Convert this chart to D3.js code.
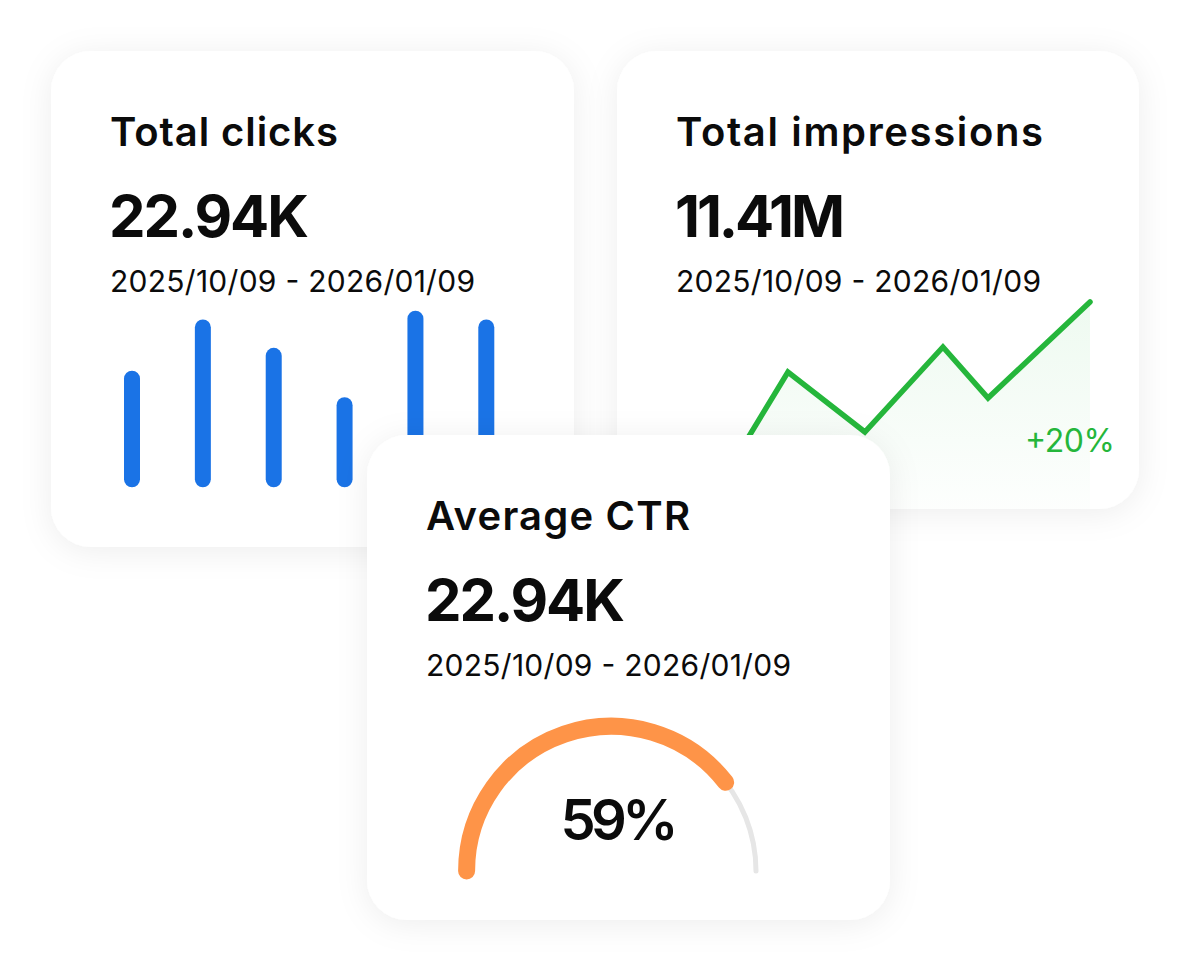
<!DOCTYPE html>
<html>
<head>
<meta charset="utf-8">
<script src="https://cdn.jsdelivr.net/npm/d3@7"></script>
<style>
html,body{margin:0;padding:0;background:#ffffff;}
svg{display:block;}
text{font-family:Inter,"Open Sans","Noto Sans",sans-serif;fill:#0b0b0b;}
</style>
</head>
<body>
<svg id="chart" width="1191" height="972"></svg>
<script>
// ---------- data ----------
const cardTitles = ["Total clicks", "Total impressions", "Average CTR"];
const cardValues = ["22.94K", "11.41M", "22.94K"];
const cardDates  = ["2025/10/09 - 2026/01/09", "2025/10/09 - 2026/01/09", "2025/10/09 - 2026/01/09"];

const barCategories = ["b1", "b2", "b3", "b4", "b5", "b6"];
const barValues     = [66, 95, 79, 51, 100, 95];

const linePositions = [0, 20.3, 40.6, 61.2, 73.1, 100];
const lineValues    = [0.5, 64, 34, 76.5, 51, 99];
const changeLabel   = "+20%";

const gaugeValue = 79;      // arc sweep as drawn
const gaugeLabel = "59%";

// ---------- layout ----------
const svg = d3.select("#chart");
const cards = [
  {x: 51,  y: 51,  w: 523, h: 496},
  {x: 617, y: 51,  w: 522, h: 458},
  {x: 367, y: 435, w: 523, h: 485}
];
const R = 40;

const defs = svg.append("defs");
const f = defs.append("filter").attr("id", "shadow")
  .attr("x", "-20%").attr("y", "-20%").attr("width", "140%").attr("height", "140%");
f.append("feDropShadow").attr("dx", 0).attr("dy", 4).attr("stdDeviation", 16)
  .attr("flood-color", "#000").attr("flood-opacity", 0.07);

const grad = defs.append("linearGradient").attr("id", "areaGrad")
  .attr("x1", 0).attr("y1", 0).attr("x2", 0).attr("y2", 1);
grad.append("stop").attr("offset", "0%").attr("stop-color", "#2cbf48").attr("stop-opacity", 0.08);
grad.append("stop").attr("offset", "100%").attr("stop-color", "#2cbf48").attr("stop-opacity", 0.01);

defs.append("clipPath").attr("id", "clip2").append("rect")
  .attr("x", cards[1].x).attr("y", cards[1].y).attr("width", cards[1].w).attr("height", cards[1].h)
  .attr("rx", R);

const titleW = [228, 367, 264];
const valueW = [200, 170, 200];
const dateW  = 365;

function fit(sel, target) {
  const n = sel.node();
  const len = n.getComputedTextLength();
  if (Math.abs(len - target) > 1) {
    sel.attr("textLength", target).attr("lengthAdjust", "spacing");
  }
}

function drawCard(i) {
  const c = cards[i];
  const g = svg.append("g");
  g.append("rect").attr("x", c.x).attr("y", c.y).attr("width", c.w).attr("height", c.h)
    .attr("rx", R).attr("fill", "#ffffff").attr("filter", "url(#shadow)");
  const t = g.append("text").attr("x", c.x + 59).attr("y", c.y + 95)
    .attr("font-size", 40).attr("font-weight", 600).text(cardTitles[i]);
  fit(t, titleW[i]);
  const v = g.append("text").attr("x", c.x + 58).attr("y", c.y + 186)
    .attr("font-size", 58).attr("font-weight", 700).text(cardValues[i]);
  fit(v, valueW[i]);
  const d = g.append("text").attr("x", c.x + 59).attr("y", c.y + 241)
    .attr("font-size", 30).attr("font-weight", 400).text(cardDates[i]);
  fit(d, dateW);
  return g;
}

// ---------- card 1: bars ----------
const g1 = drawCard(0);
const xb = d3.scalePoint().domain(barCategories).range([132, 486.3]);
const yb = d3.scaleLinear().domain([0, 100]).range([487.3, 310.7]);
g1.selectAll("rect.bar").data(barValues).join("rect").attr("class", "bar")
  .attr("x", (d, i) => xb(barCategories[i]) - 8)
  .attr("y", d => yb(d))
  .attr("width", 16)
  .attr("height", d => yb(0) - yb(d))
  .attr("rx", 8)
  .attr("fill", "#1a73e6");

// ---------- card 2: line ----------
const g2 = drawCard(1);
const xl = d3.scaleLinear().domain([0, 100]).range([711, 1090]);
const yl = d3.scaleLinear().domain([0, 100]).range([500, 300]);
const pts = linePositions.map((p, i) => [p, lineValues[i]]);
const lg = g2.append("g").attr("clip-path", "url(#clip2)");
lg.append("path").datum(pts)
  .attr("d", d3.area().x(d => xl(d[0])).y0(cards[1].y + cards[1].h).y1(d => yl(d[1])))
  .attr("fill", "url(#areaGrad)");
lg.append("path").datum(pts)
  .attr("d", d3.line().x(d => xl(d[0])).y(d => yl(d[1])))
  .attr("fill", "none").attr("stroke", "#25b63b").attr("stroke-width", 5.5)
  .attr("stroke-linecap", "round").attr("stroke-linejoin", "miter");
const ch = g2.append("text").attr("x", 1025).attr("y", 452)
  .attr("font-size", 32).attr("font-weight", 400).style("fill", "#25b63b").text(changeLabel);
fit(ch, 90);

// ---------- card 3: gauge ----------
const g3 = drawCard(2);
const cx = 611.3, cy = 871, gr = 144.7;
const ang = d3.scaleLinear().domain([0, 100]).range([-Math.PI / 2, Math.PI / 2]);
function arcPath(a0, a1) {
  const p = d3.path();
  p.arc(cx, cy, gr, a0 - Math.PI / 2, a1 - Math.PI / 2, false);
  return p.toString();
}
g3.append("path").attr("d", arcPath(ang(0), ang(100)))
  .attr("fill", "none").attr("stroke", "#e6e6e6").attr("stroke-width", 5)
  .attr("stroke-linecap", "round");
g3.append("path").attr("d", arcPath(ang(0), ang(gaugeValue)))
  .attr("fill", "none").attr("stroke", "#fe9448").attr("stroke-width", 17)
  .attr("stroke-linecap", "round");
const gl = g3.append("text").attr("x", 619.5).attr("y", 840).attr("text-anchor", "middle")
  .attr("font-size", 56).attr("font-weight", 600).text(gaugeLabel);
fit(gl, 118);
</script>
</body>
</html>
